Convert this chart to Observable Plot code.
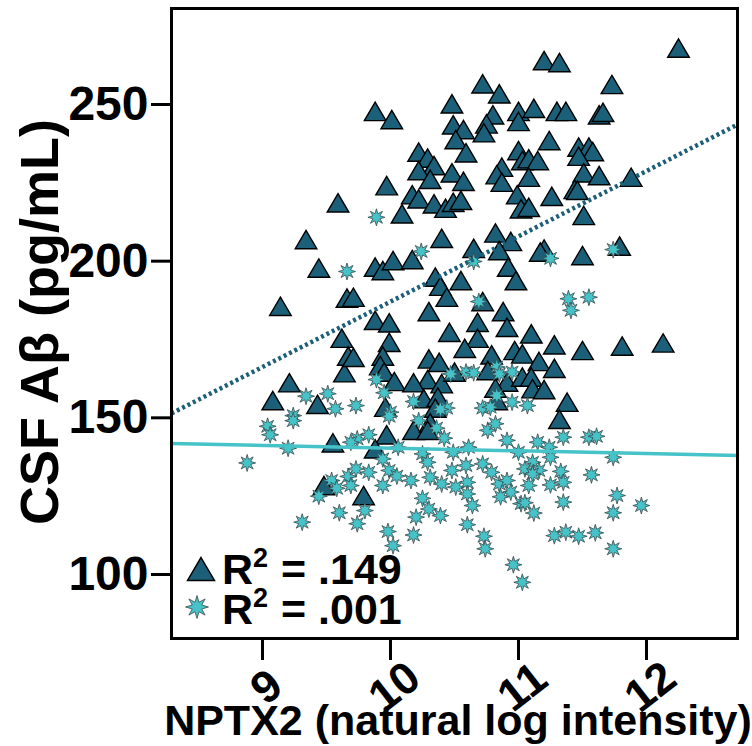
<!DOCTYPE html>
<html><head><meta charset="utf-8">
<script src="https://cdn.jsdelivr.net/npm/d3@7"></script>
<script src="https://cdn.jsdelivr.net/npm/@observablehq/plot@0.6"></script>
<style>body{margin:0;background:#fff}</style>
</head><body><div id="chart"></div>
<script>
// Triangles (higher series): NPTX2 x, CSF Aβ y
const triX = [12.25,11.20,11.32,10.72,10.85,11.73,9.88,10.01,10.48,11.00,10.80,10.49,10.57,10.75,10.73,11.00,10.51,10.59,10.22,10.29,10.34,10.22,10.31,10.48,10.57,10.87,10.83,10.87,11.00,11.03,9.97,10.17,10.22,10.34,10.43,10.49,10.55,10.99,11.02,10.09,
11.12,11.30,11.37,11.63,11.66,11.24,11.47,11.55,11.58,11.47,11.08,11.15,11.51,11.63,11.88,11.08,11.44,11.46,11.26,11.08,11.51,9.59,
9.34,9.44,9.66,9.14,9.62,9.67,9.64,9.21,9.08,9.43,
10.40,10.82,10.94,10.65,10.85,9.88,9.94,10.02,10.17,10.35,10.39,10.55,10.44,10.92,10.98,9.71,10.72,10.30,10.88,9.88,9.99,10.68,10.91,10.46,10.68,9.99,10.58,9.94,9.71,10.30,10.38,10.79,10.97,11.03,9.92,9.95,10.03,10.29,10.18,10.40,10.50,10.76,10.91,10.82,11.03,10.26,10.37,10.35,9.96,10.83,
11.20,11.17,11.50,11.79,11.10,11.28,11.50,11.81,12.13,11.16,11.28,11.10,11.11,11.20,11.38,11.32,
9.55,9.48,9.97,10.18,10.31,10.29,9.88,9.79];
const triY = [268.0,264.0,263.4,256.6,253.4,256.4,247.8,245.2,250.2,247.8,246.7,243.5,242.0,243.8,241.0,244.6,238.8,234.6,234.8,232.9,230.5,228.9,226.1,228.2,225.5,230.0,227.6,225.2,235.3,232.1,224.1,221.2,219.9,218.3,216.9,218.8,219.4,221.2,216.7,215.1,
248.8,247.8,247.8,246.7,247.5,238.5,236.4,236.4,235.0,233.5,232.7,232.1,228.2,227.3,226.8,226.8,222.9,222.6,220.7,217.2,214.6,218.6,
206.9,197.8,188.2,185.6,175.4,169.7,164.4,161.2,155.5,154.3,
207.3,209.0,206.3,204.1,203.4,198.1,197.0,200.2,200.5,194.9,192.0,193.8,188.5,198.1,193.8,188.5,187.1,183.9,183.9,181.1,180.3,180.5,178.9,177.3,175.4,174.1,172.2,169.7,169.3,168.8,167.7,170.1,171.5,170.4,166.7,164.6,161.6,162.2,161.2,160.9,164.6,165.1,161.4,159.5,163.0,156.1,156.6,153.1,153.4,155.5,
203.9,202.9,201.8,204.8,176.8,173.3,171.5,172.9,173.9,168.0,165.8,163.0,159.3,159.0,155.0,149.5,
142.0,128.4,144.6,146.0,148.4,146.0,140.1,125.2];

// Stars (lower series)
const starX = [9.89,9.66,9.34,9.51,9.57,9.24,
10.24,10.65,10.69,10.47,10.59,10.65,10.83,10.85,10.95,9.89,9.95,10.18,9.73,10.83,10.95,10.72,10.78,10.44,10.39,10.00,
11.25,11.74,11.39,11.55,11.41,11.07,
9.04,9.06,9.24,9.20,8.88,9.54,9.58,9.44,9.60,9.31,9.67,
9.99,10.22,10.36,10.76,10.82,10.91,9.74,9.83,9.69,10.42,10.06,9.94,10.25,10.29,10.49,10.61,10.59,10.72,10.79,11.00,9.73,9.83,9.99,10.05,10.16,10.31,10.48,10.40,10.60,10.51,10.60,10.85,10.91,10.94,10.86,11.02,9.94,9.69,10.64,10.25,10.30,10.39,10.20,9.80,9.74,10.60,9.98,10.18,10.02,10.73,10.74,10.96,11.03,
11.15,11.24,11.35,11.55,11.61,11.25,11.74,11.11,11.05,11.16,11.11,11.33,11.57,11.35,11.25,11.08,11.77,11.96,11.74,11.35,11.12,11.05,11.28,11.37,11.47,11.60,11.74];
const starY = [214.0,196.7,156.9,157.7,152.9,150.7,
203.1,199.9,187.1,164.0,164.6,164.4,166.2,164.0,164.6,162.2,158.0,155.2,153.9,157.1,155.0,153.1,153.4,153.1,152.7,151.8,
200.9,203.7,188.0,188.5,184.3,153.9,
147.3,144.6,149.1,140.3,135.6,130.0,127.5,125.0,119.7,116.7,131.3,
150.5,149.1,146.7,146.0,148.1,142.8,143.3,144.6,142.2,143.5,140.6,136.9,138.5,135.8,139.0,140.6,134.8,135.3,132.6,139.0,133.7,132.6,133.2,131.4,130.0,131.0,133.2,128.9,129.4,127.9,125.7,128.9,130.0,126.3,124.8,122.6,128.4,128.4,122.0,124.3,120.9,118.8,118.3,120.4,116.2,115.9,113.7,112.6,109.2,112.2,108.2,103.1,97.5,
142.2,140.6,143.8,143.8,144.1,137.4,137.4,135.8,133.7,133.2,132.1,132.9,131.8,129.4,128.6,128.4,125.2,122.0,119.7,123.1,119.6,122.9,112.4,113.5,112.2,113.3,108.2];

// Fitted regression lines (end points across the x range)
const fitX = [8.289, 12.711];
const triFitY = [151.4, 243.6];
const starFitY = [141.8, 138.0];

const xTicks = [9, 10, 11, 12];
const yTicks = [100, 150, 200, 250];
const legendLabels = [".149", ".001"];

const tri = triX.map((x, i) => ({x, y: triY[i]}));
const star = starX.map((x, i) => ({x, y: starY[i]}));
const lineTri = fitX.map((x, i) => ({x, y: triFitY[i]}));
const lineStar = fitX.map((x, i) => ({x, y: starFitY[i]}));

const triangleSym = {draw(ctx, size) {
  const r = Math.sqrt(size / Math.PI);
  ctx.moveTo(0, -0.85 * r);
  ctx.lineTo(r, 0.85 * r);
  ctx.lineTo(-r, 0.85 * r);
  ctx.closePath();
}};
const starSym = {draw(ctx, size) {
  const R = Math.sqrt(size / Math.PI), ri = R * 0.45;
  for (let k = 0; k < 16; k++) {
    const a = -Math.PI / 2 + k * Math.PI / 8, rr = k % 2 ? ri : R;
    const px = rr * Math.cos(a), py = rr * Math.sin(a);
    k ? ctx.lineTo(px, py) : ctx.moveTo(px, py);
  }
  ctx.closePath();
}};

const TRI = "#1b5f79", STAR = "#45c3c8", FONT = "'Liberation Sans', Arial, sans-serif";

const plot = Plot.plot({
  width: 752, height: 746,
  marginLeft: 171, marginRight: 15, marginTop: 8, marginBottom: 108,
  style: {fontFamily: FONT, fontWeight: "bold", color: "black", background: "white"},
  x: {domain: [8.289, 12.711]},
  y: {domain: [79.57, 280.64]},
  marks: [
    Plot.axisY({ticks: yTicks, tickSize: 20, tickPadding: 3, strokeWidth: 3, fontSize: 48, fontWeight: "bold", label: null}),
    Plot.axisX({ticks: xTicks, tickSize: 22, strokeWidth: 3, tickFormat: () => "", label: null}),
    Plot.text(xTicks, {x: d => d, frameAnchor: "bottom", dy: 60, dx: 13, rotate: -38, text: d => String(d), fontSize: 45, fontWeight: "bold", fill: "black"}),
    Plot.dot(tri, {x: "x", y: "y", symbol: triangleSym, r: 10.8, fill: TRI, stroke: "black", strokeWidth: 1.4}),
    Plot.dot(star, {x: "x", y: "y", symbol: starSym, r: 8.5, fill: STAR, stroke: "#3a4a4c", strokeWidth: 0.8}),
    Plot.line(lineTri, {x: "x", y: "y", stroke: TRI, strokeWidth: 4.5, strokeDasharray: "3 3", strokeLinecap: "butt"}),
    Plot.line(lineStar, {x: "x", y: "y", stroke: STAR, strokeWidth: 3.5}),
    Plot.frame({stroke: "black", strokeWidth: 3})
  ]
});
document.getElementById("chart").appendChild(plot);

const svg = d3.select(plot);
const addText = (x, y, size, str, anchor = "start") => svg.append("text").attr("x", x).attr("y", y)
  .attr("text-anchor", anchor).attr("font-size", size).attr("font-weight", "bold")
  .attr("font-family", FONT).attr("fill", "black").text(str);
// axis titles
addText(458, 735, 43, "NPTX2 (natural log intensity)", "middle");
svg.append("text").attr("transform", "translate(58,322) rotate(-90)").attr("text-anchor", "middle")
  .attr("font-size", 54).attr("font-weight", "bold").attr("font-family", FONT)
  .text("CSF Aβ (pg/mL)");
// legend
const leg = [
  {sym: triangleSym, size: Math.PI * 100, fill: TRI, stroke: "black", sw: 1.1, cx: 201, cy: 569, by: 584},
  {sym: starSym, size: Math.PI * 72, fill: STAR, stroke: "#3a4a4c", sw: 0.6, cx: 197, cy: 607, by: 624}
];
leg.forEach((l, i) => {
  svg.append("path").attr("d", d3.symbol(l.sym, l.size)()).attr("transform", `translate(${l.cx},${l.cy}) scale(1.35)`)
    .attr("fill", l.fill).attr("stroke", l.stroke).attr("stroke-width", l.sw);
  addText(222, l.by, 43, "R");
  addText(253, l.by - 17, 27, "2");
  addText(281, l.by, 43, "= " + legendLabels[i]);
});
</script></body></html>
